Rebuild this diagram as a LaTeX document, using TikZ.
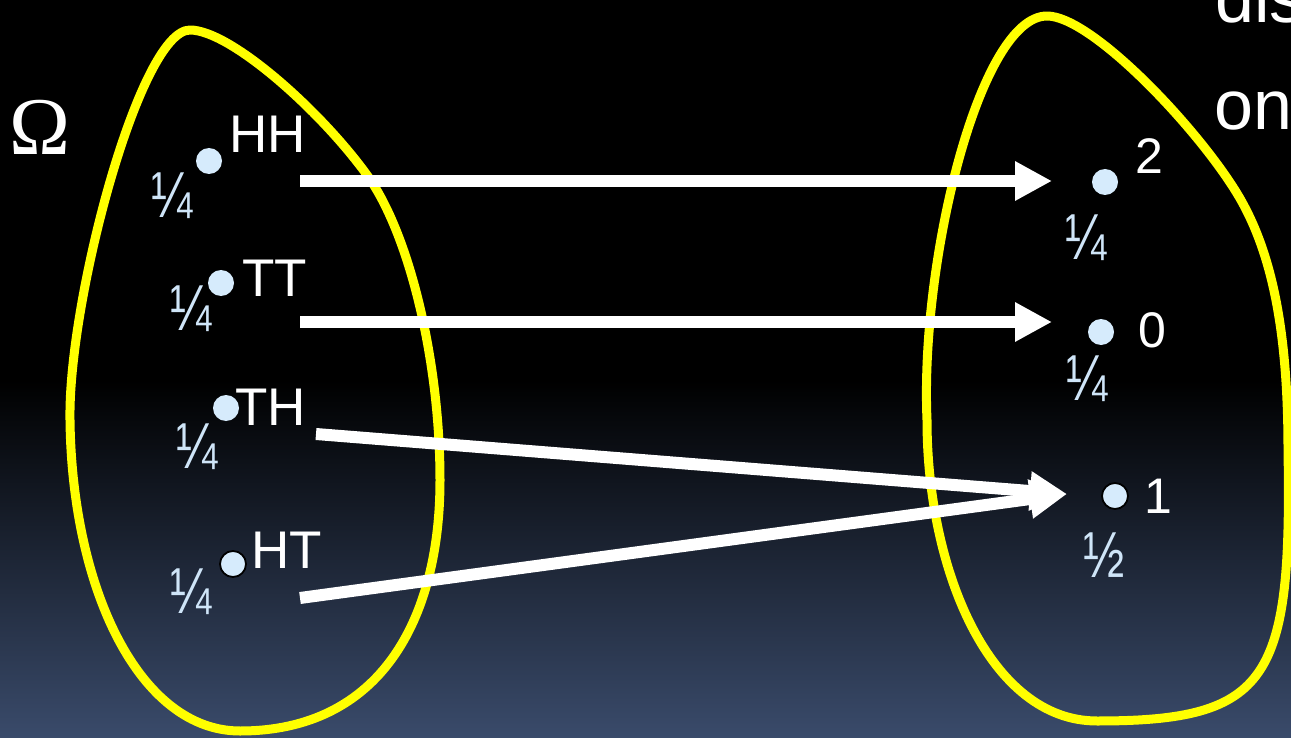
\documentclass[tikz,border=0pt]{standalone}
\usepackage{fontspec}
\setmainfont{Liberation Sans}
\newfontfamily\serifom{Liberation Serif}
\usetikzlibrary{arrows.meta}
\definecolor{bgbot}{HTML}{3A4B6B}
\definecolor{dotblue}{HTML}{D6EBFC}
\definecolor{fracblue}{HTML}{CFE5F8}
\definecolor{blobyellow}{HTML}{FFFF00}
\tikzset{
  blob/.style={draw=blobyellow, line width=9pt, line join=round},
  pt/.style={circle, fill=dotblue, minimum size=26pt, inner sep=0pt},
  ptring/.style={pt, draw=black, line width=1.8pt},
  lab/.style={anchor=base west, inner sep=0pt, text=white, font=\fontsize{53}{53}\selectfont},
  num/.style={anchor=base west, inner sep=0pt, text=white, font=\fontsize{50}{50}\selectfont},
  frac/.style={anchor=base west, inner sep=0pt, text=fracblue, font=\fontsize{52}{52}\selectfont},
  maparrow/.style={draw=white, line width=12pt, -{Triangle[length=37pt,width=37pt]}},
  bigtext/.style={anchor=base west, inner sep=0pt, text=white, font=\fontsize{70}{70}\selectfont}
}
\newcommand{\tallfrac}[1]{\scalebox{0.95}[1.25]{#1}}
\begin{document}
\begin{tikzpicture}[x=1pt,y=-1pt]
\useasboundingbox (0,0) rectangle (1291,738);
\clip (0,0) rectangle (1291,738);
% background
\fill[black] (0,0) rectangle (1291,738);
\shade[top color=black, bottom color=bgbot] (0,380) rectangle (1291,739);
% left blob
\draw[blob] (190,30) .. controls (230,30) and (320,110) .. (367,175)
  .. controls (409,233) and (440,360) .. (440,480)
  .. controls (440,620) and (380,731) .. (240,731)
  .. controls (140,731) and (72,590) .. (70,420)
  .. controls (68,300) and (140,30) .. (190,30) -- cycle;
% right blob
\draw[blob] (1047,16) .. controls (1090,16) and (1190,120) .. (1233,187)
  .. controls (1272,247) and (1288,330) .. (1288,450)
  .. controls (1292,680) and (1270,721) .. (1097,721)
  .. controls (990,721) and (927,570) .. (927,420)
  .. controls (920,260) and (980,16) .. (1047,16) -- cycle;
% texts top right and Omega
\node[bigtext] (dis) at (1215,23) {dis};
\node[bigtext] (on) at (1214,130) {on};
\node[anchor=base, inner sep=0pt, text=white, font=\serifom\fontsize{82}{82}\selectfont] (omega) at (40,155) {Ω};
% left points
\node[pt] (hh) at (209,161) {};
\node[pt] (tt) at (221,283) {};
\node[pt] (th) at (226,408) {};
\node[ptring] (ht) at (233,564) {};
\node[lab] (hhl) at (229,153) {HH};
\node[lab] (ttl) at (242,297) {TT};
\node[lab] (thl) at (235,425) {TH};
\node[lab] (htl) at (251,568) {HT};
\node[frac] (hhp) at (151,218) {\tallfrac{¼}};
\node[frac] (ttp) at (170,330) {\tallfrac{¼}};
\node[frac] (thp) at (176,468) {\tallfrac{¼}};
\node[frac] (htp) at (170,613) {\tallfrac{¼}};
% right points
\node[pt] (two) at (1105,182) {};
\node[pt] (zero) at (1101,332) {};
\node[ptring] (one) at (1115,496) {};
\node[num] (twol) at (1135,174) {2};
\node[num] (zerol) at (1138,347) {0};
\node[num] (onel) at (1144,513) {1};
\node[frac] (twop) at (1065,260) {\tallfrac{¼}};
\node[frac] (zerop) at (1066,400) {\tallfrac{¼}};
\node[frac] (onep) at (1083,577) {\tallfrac{½}};
% arrows
\coordinate (s1) at (300,181);
\coordinate (e1) at (1052,181);
\coordinate (s2) at (300,322);
\coordinate (e2) at (1052,322);
\coordinate (s3) at (316,434);
\coordinate (s4) at (300,598);
\coordinate (e34) at (1067,494);
\draw[maparrow] (s1) -- (e1);
\draw[maparrow] (s2) -- (e2);
\draw[maparrow] (s3) -- (e34);
\draw[maparrow] (s4) -- (e34);
\end{tikzpicture}
\end{document}
